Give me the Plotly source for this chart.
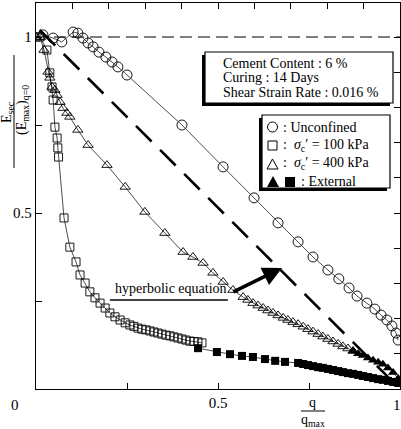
import plotly.graph_objects as go

# ---------------- data (q/qmax , Esec/(Emax)q=0) ----------------
unconf_q = [0.019, 0.047, 0.071, 0.102, 0.115, 0.129, 0.143, 0.157, 0.173, 0.192,
            0.209, 0.225, 0.250, 0.401, 0.514, 0.599, 0.665, 0.720, 0.761, 0.802,
            0.832, 0.860, 0.882, 0.909, 0.931, 0.948, 0.964, 0.978, 0.989, 0.995]
unconf_e = [1.006, 0.997, 0.986, 1.014, 1.011, 0.997, 0.983, 0.972, 0.957, 0.943,
            0.929, 0.915, 0.892, 0.750, 0.631, 0.543, 0.472, 0.418, 0.375, 0.338,
            0.313, 0.287, 0.264, 0.244, 0.227, 0.210, 0.196, 0.179, 0.159, 0.139]

s100_q = [0.0, 0.011, 0.030, 0.038, 0.044, 0.047, 0.052, 0.058, 0.060, 0.062,
          0.077, 0.093, 0.110, 0.121, 0.135, 0.148, 0.162, 0.176, 0.190, 0.203,
          0.217, 0.231, 0.245, 0.258, 0.269, 0.280, 0.291, 0.302, 0.313, 0.324,
          0.335, 0.346, 0.357, 0.368, 0.379, 0.390, 0.401, 0.412, 0.423, 0.434,
          0.445, 0.456]
s100_e = [1.0, 1.0, 0.963, 0.898, 0.858, 0.821, 0.744, 0.713, 0.685, 0.659,
          0.486, 0.403, 0.361, 0.324, 0.301, 0.276, 0.259, 0.244, 0.230, 0.216,
          0.205, 0.196, 0.188, 0.182, 0.178, 0.173, 0.170, 0.168, 0.165, 0.162,
          0.159, 0.156, 0.153, 0.151, 0.148, 0.145, 0.142, 0.139, 0.136, 0.135,
          0.134, 0.131]

s100_ext_q = [0.445, 0.497, 0.533, 0.566, 0.596, 0.629, 0.657, 0.684, 0.720, 0.734,
              0.747, 0.761, 0.775, 0.788, 0.802, 0.816, 0.830, 0.843, 0.857, 0.871,
              0.885, 0.898, 0.912, 0.926, 0.940, 0.953, 0.967, 0.981, 0.995]
s100_ext_e = [0.116, 0.105, 0.099, 0.094, 0.091, 0.085, 0.080, 0.077, 0.074, 0.071,
              0.068, 0.065, 0.062, 0.060, 0.057, 0.054, 0.051, 0.048, 0.045, 0.043,
              0.040, 0.037, 0.034, 0.031, 0.028, 0.026, 0.023, 0.020, 0.017]

s400_q = [0.0, 0.011, 0.022, 0.033, 0.038, 0.044, 0.052, 0.058, 0.066, 0.074,
          0.085, 0.093, 0.115, 0.143, 0.195, 0.245, 0.299, 0.354, 0.404, 0.431,
          0.459, 0.486, 0.514, 0.541, 0.569, 0.582, 0.596, 0.610, 0.624, 0.637,
          0.651, 0.665, 0.679, 0.692, 0.706, 0.720, 0.734, 0.747, 0.761, 0.775,
          0.788, 0.802, 0.816, 0.830, 0.843, 0.857, 0.871]
s400_e = [1.0, 1.0, 0.963, 0.901, 0.884, 0.858, 0.849, 0.835, 0.815, 0.798,
          0.784, 0.773, 0.736, 0.693, 0.636, 0.574, 0.503, 0.443, 0.389, 0.375,
          0.358, 0.330, 0.304, 0.281, 0.261, 0.253, 0.244, 0.237, 0.230, 0.223,
          0.216, 0.209, 0.202, 0.196, 0.190, 0.184, 0.177, 0.170, 0.163, 0.156,
          0.149, 0.142, 0.135, 0.128, 0.121, 0.115, 0.108]

s400_ext_q = [0.871, 0.885, 0.898, 0.912, 0.926, 0.940, 0.953, 0.967, 0.981, 0.995]
s400_ext_e = [0.108, 0.100, 0.095, 0.088, 0.082, 0.076, 0.070, 0.060, 0.047, 0.030]

# reference lines
hyper_q = [0.01, 1.0]
hyper_e = [1.02, 0.0]
unity_q = [0.0, 1.0]
unity_e = [1.0, 1.0]

x_ticks = [0.5]
x_ticktext = ["0.5"]
x_end_label = "1"
y_ticks = [0.5, 1.0]
y_ticktext = ["0.5", "1"]

info_lines = ["Cement Content : 6 %", "Curing : 14 Days", "Shear Strain Rate : 0.016 %"]
legend_labels = [": Unconfined",
                 ":  <i>σ</i><sub>c</sub>′ = 100 kPa",
                 ":  <i>σ</i><sub>c</sub>′ = 400 kPa",
                 ": External"]

# ---------------- figure ----------------
W, H = 401, 429
L, R, T, B = 36, 1, 3, 40
PW, PH = W - L - R, H - T - B
FONT = "Liberation Serif"


def px(x):
    return (x - L) / PW


def py(y):
    return (T + PH - y) / PH


fig = go.Figure()

line_style = dict(color="black", width=0.7)

fig.add_trace(go.Scatter(x=unity_q, y=unity_e, mode="lines",
                         line=dict(color="black", width=1, dash="12px,6px"),
                         hoverinfo="skip"))
fig.add_trace(go.Scatter(x=hyper_q, y=hyper_e, mode="lines",
                         line=dict(color="black", width=2.6, dash="22px,12px"),
                         hoverinfo="skip"))

fig.add_trace(go.Scatter(x=s100_ext_q, y=s100_ext_e, mode="lines+markers",
                         line=line_style,
                         marker=dict(symbol="square", size=8, color="black")))
fig.add_trace(go.Scatter(x=s400_ext_q, y=s400_ext_e, mode="lines+markers",
                         line=line_style,
                         marker=dict(symbol="triangle-up", size=9, color="black")))
fig.add_trace(go.Scatter(x=s100_q, y=s100_e, mode="lines+markers",
                         line=line_style,
                         marker=dict(symbol="square-open", size=8, color="black",
                                     line=dict(width=0.9))))
fig.add_trace(go.Scatter(x=s400_q, y=s400_e, mode="lines+markers",
                         line=line_style,
                         marker=dict(symbol="triangle-up-open", size=9, color="black",
                                     line=dict(width=0.9))))
fig.add_trace(go.Scatter(x=unconf_q, y=unconf_e, mode="lines+markers",
                         line=line_style,
                         marker=dict(symbol="circle-open", size=10, color="black",
                                     line=dict(width=0.9))))
# dummy trace for the top/right tick axes
fig.add_trace(go.Scatter(x=[0.5], y=[0.5], xaxis="x2", yaxis="y2", mode="markers",
                         marker=dict(opacity=0), hoverinfo="skip"))

minor_ticks = dict(dtick=0.25, tick0=0, ticks="inside", ticklen=6,
                   tickcolor="black", showgrid=False)
axis_common = dict(showgrid=False, zeroline=False, showline=True, linecolor="black",
                   linewidth=1.3, ticks="inside", ticklen=6, tickcolor="black",
                   automargin=False, minor=minor_ticks,
                   tickfont=dict(family=FONT, size=15, color="black"))

YMAX = PH / 352.0

fig.update_layout(
    width=W, height=H,
    margin=dict(l=L, r=R, t=T, b=B, autoexpand=False),
    paper_bgcolor="white", plot_bgcolor="white",
    showlegend=False,
    font=dict(family=FONT, color="black", size=14),
    xaxis=dict(range=[0, 1], tickvals=x_ticks, ticktext=x_ticktext, **axis_common),
    yaxis=dict(range=[0, YMAX], tickvals=y_ticks, ticktext=y_ticktext, **axis_common),
    xaxis2=dict(range=[0, 1], overlaying="x", side="top", anchor="y2", dtick=0.1,
                tick0=0, showticklabels=False, showgrid=False, zeroline=False,
                showline=True, linecolor="black", linewidth=1.3, ticks="inside",
                ticklen=6, tickcolor="black", automargin=False),
    yaxis2=dict(range=[0, YMAX], overlaying="y", side="right", anchor="x2",
                dtick=0.1, tick0=0, showticklabels=False, showgrid=False,
                zeroline=False, showline=True, linecolor="black", linewidth=1.3,
                ticks="inside", ticklen=6, tickcolor="black", automargin=False),
)

shapes = []
annotations = []


def txt(x, y, text, size=14, xanchor="center", **kw):
    d = dict(xref="paper", yref="paper", x=x, y=y, text=text, showarrow=False,
             xanchor=xanchor, yanchor="middle",
             font=dict(size=size, family=FONT, color="black"))
    d.update(kw)
    annotations.append(d)


def prect(x0, y0, x1, y1, **kw):
    d = dict(type="rect", xref="paper", yref="paper", x0=px(x0), x1=px(x1),
             y0=py(y1), y1=py(y0), layer="above")
    d.update(kw)
    shapes.append(d)


def ppath(points, **kw):
    p = "M " + " L ".join(f"{px(a):.5f},{py(b):.5f}" for a, b in points) + " Z"
    d = dict(type="path", xref="paper", yref="paper", path=p, layer="above")
    d.update(kw)
    shapes.append(d)


# origin label and right-end x label
txt(px(15), py(405), "0", size=15)
txt(px(397), py(405), x_end_label, size=15)

# x-axis title (fraction)
txt(px(312), py(403), "q")
txt(px(313), py(420), "q<sub>max</sub>")
shapes.append(dict(type="line", xref="paper", yref="paper", x0=px(301), x1=px(325),
                   y0=py(411), y1=py(411), line=dict(color="black", width=1)))

# y-axis title (fraction, rotated)
txt(px(7), py(112), "E<sub>sec</sub>", textangle=-90)
txt(px(22), py(110), "(E<sub>max</sub>)<sub>q=0</sub>", textangle=-90)
shapes.append(dict(type="line", xref="paper", yref="paper", x0=px(14), x1=px(14),
                   y0=py(55), y1=py(168), line=dict(color="black", width=1)))

# info box with shadow
prect(202, 55, 390, 106, fillcolor="black", line=dict(width=0))
prect(205, 52, 393, 103, fillcolor="white", line=dict(color="black", width=1.2))
for i, t in enumerate(info_lines):
    txt(px(221), py(63 + 14.5 * i), t, xanchor="left")

# symbol legend box with shadow
prect(259, 118, 387, 191, fillcolor="black", line=dict(width=0))
prect(262, 115, 390, 188, fillcolor="white", line=dict(color="black", width=1.2))
sym_line = dict(color="black", width=1)
shapes.append(dict(type="circle", xref="paper", yref="paper", layer="above",
                   x0=px(267.5), x1=px(277.5), y0=py(132), y1=py(122),
                   line=sym_line, fillcolor="white"))
prect(268, 141, 277, 150, line=sym_line, fillcolor="white")
ppath([(267, 169), (278, 169), (272.5, 159)], line=sym_line, fillcolor="white")
ppath([(267, 187), (279, 187), (273, 176)], line=dict(width=0), fillcolor="black")
prect(285, 177, 295, 187, line=dict(width=0), fillcolor="black")
label_x = [281, 281, 281, 299]
for i, t in enumerate(legend_labels):
    txt(px(label_x[i]), py(127 + 18.3 * i), t, xanchor="left")

# hyperbolic equation label + arrow
annotations.append(dict(xref="x", yref="y", x=0.371, y=0.286,
                        text="hyperbolic equation", showarrow=False,
                        xanchor="center", yanchor="middle",
                        font=dict(size=14, family=FONT, color="black")))
shapes.append(dict(type="line", xref="x", yref="y", x0=0.203, x1=0.527,
                   y0=0.253, y1=0.253, line=dict(color="black", width=1.4)))
annotations.append(dict(xref="x", yref="y", x=0.676, y=0.344, ax=0.538, ay=0.274,
                        axref="x", ayref="y", text="", showarrow=True,
                        arrowhead=2, arrowsize=1.1, arrowwidth=3.5, arrowcolor="black"))

fig.update_layout(shapes=shapes, annotations=annotations)

fig.write_html("out.html", config={"displayModeBar": False},
               post_script="document.body.style.margin='0';"
                           "document.body.style.overflow='hidden';")
